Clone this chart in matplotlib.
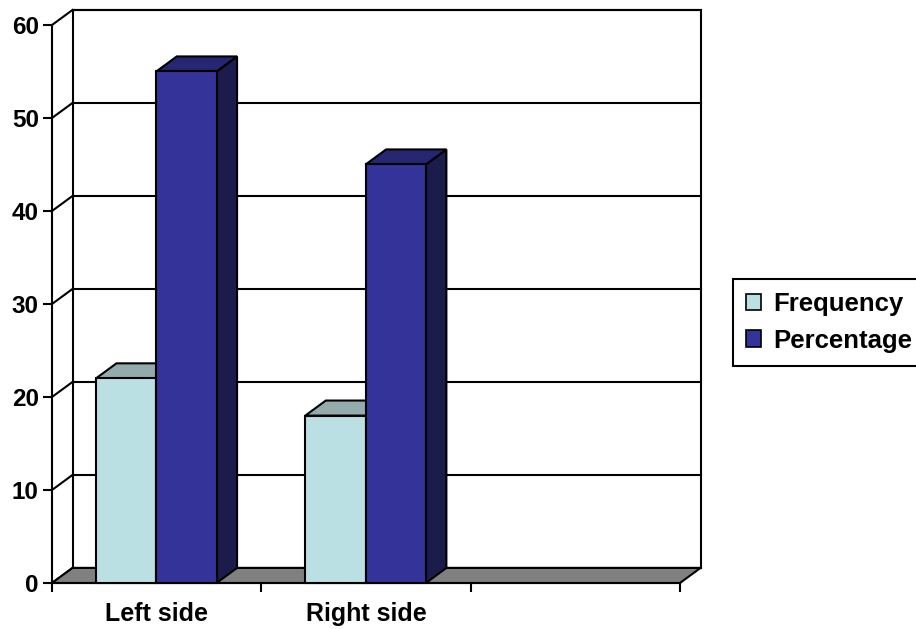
import matplotlib
matplotlib.use("Agg")
import matplotlib.pyplot as plt
from matplotlib.patches import Rectangle, Polygon, Patch

plt.rcParams['font.family'] = ['Liberation Sans', 'DejaVu Sans']
plt.rcParams['font.weight'] = 'bold'

# data
categories = ["Left side", "Right side", ""]
frequency = [22, 18]
percentage = [55, 45]
series_names = ["Frequency", "Percentage"]
y_ticks = [0, 10, 20, 30, 40, 50, 60]

# colours (front, top, side)
freq_colors = ("#BBE0E3", "#93ABAD", "#7E9698")
pct_colors = ("#333399", "#262673", "#1C1C4C")
floor_color = "#808080"

# depth of the fake 3d, in data units
DX = 0.098
DY = 1.62
BAR_W = 0.288
BAR_OFF = 0.21
LW = 1.5

fig = plt.figure(figsize=(9.16, 6.29), dpi=100)
ax = fig.add_axes([52/916, 46/629, 628/916, 558/629])
n = len(categories)
ax.set_xlim(0, n)
ax.set_ylim(0, 60)

# back wall
ax.add_patch(Rectangle((DX, DY), n, 60, facecolor="white", edgecolor="black",
                       lw=LW, zorder=1, clip_on=False))
for v in y_ticks:
    ax.plot([DX, n + DX], [v + DY, v + DY], color="black", lw=LW, zorder=1.5, clip_on=False)
    ax.plot([0, DX], [v, v + DY], color="black", lw=LW, zorder=1.5, clip_on=False)

# floor
ax.add_patch(Polygon([(0, 0), (n, 0), (n + DX, DY), (DX, DY)], closed=True,
                     facecolor=floor_color, edgecolor="black", lw=LW, zorder=2, clip_on=False))


def bar3d(x0, h, cols):
    front, top, side = cols
    ax.add_patch(Polygon([(x0 + BAR_W, 0), (x0 + BAR_W + DX, DY), (x0 + BAR_W + DX, h + DY),
                          (x0 + BAR_W, h)], closed=True, facecolor=side,
                         edgecolor="black", lw=LW, zorder=3, clip_on=False))
    ax.add_patch(Polygon([(x0, h), (x0 + BAR_W, h), (x0 + BAR_W + DX, h + DY), (x0 + DX, h + DY)],
                         closed=True, facecolor=top, edgecolor="black", lw=LW, zorder=3, clip_on=False))
    ax.add_patch(Rectangle((x0, 0), BAR_W, h, facecolor=front, edgecolor="black",
                           lw=LW, zorder=3, clip_on=False))


for i in range(len(frequency)):
    bar3d(i + BAR_OFF, frequency[i], freq_colors)
    bar3d(i + BAR_OFF + BAR_W, percentage[i], pct_colors)

# axes
for s in ["top", "right"]:
    ax.spines[s].set_visible(False)
ax.spines["left"].set_linewidth(LW)
ax.spines["bottom"].set_linewidth(LW)
ax.spines["left"].set_zorder(4)

ax.set_yticks(y_ticks)
ax.set_yticklabels([str(v) for v in y_ticks], fontsize=17.5, fontweight="bold")
ax.tick_params(axis="y", direction="out", length=6.5, width=LW, pad=3)

ax.set_xticks([i + 0.5 for i in range(n)])
ax.set_xticklabels(categories, fontsize=18, fontweight="bold")
ax.set_xticks(range(n + 1), minor=True)
ax.tick_params(axis="x", which="major", length=0, pad=14)
ax.tick_params(axis="x", which="minor", direction="out", length=6.5, width=LW)

handles = [Patch(facecolor=freq_colors[0], edgecolor="black", lw=1.2),
           Patch(facecolor=pct_colors[0], edgecolor="black", lw=1.2)]
leg = fig.legend(handles, series_names, loc="upper left",
                 bbox_to_anchor=(733/916, 1 - 279/629), bbox_transform=fig.transFigure,
                 borderaxespad=0, fancybox=False, edgecolor="black", framealpha=1,
                 handlelength=0.6, handleheight=0.6, handletextpad=0.45,
                 borderpad=0.5, labelspacing=0.5,
                 prop={"size": 18.5, "weight": "bold"})
leg.get_frame().set_linewidth(LW)

fig.savefig("out.png", dpi=100)
